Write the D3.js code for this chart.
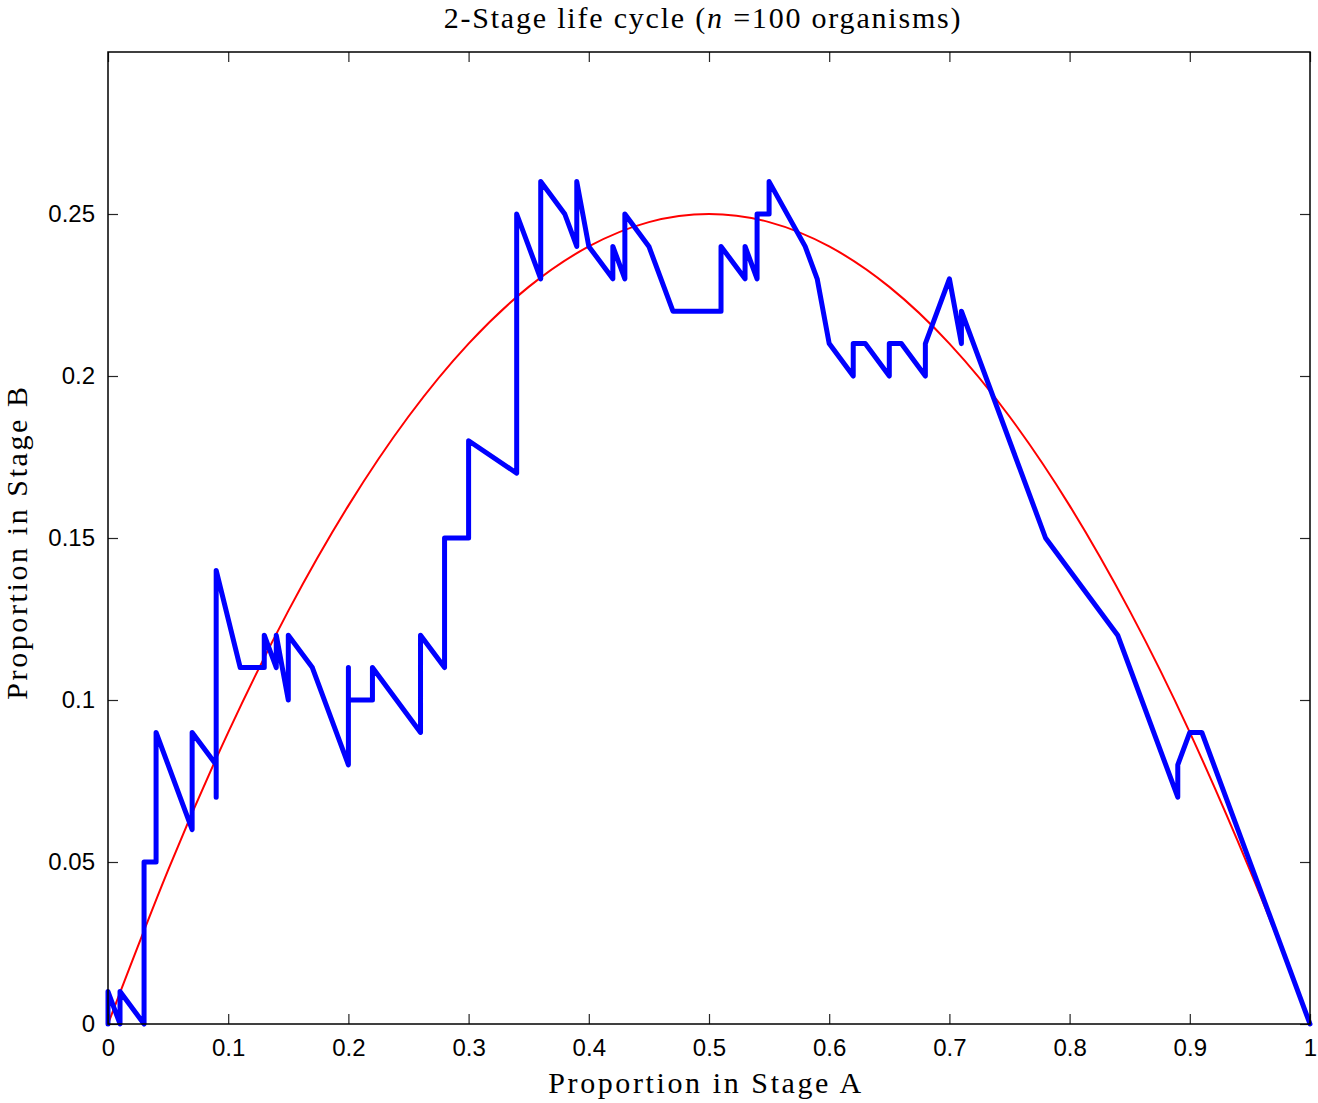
<!DOCTYPE html>
<html>
<head>
<meta charset="utf-8">
<script src="https://cdn.jsdelivr.net/npm/d3@7"></script>
<style>
  html, body { margin: 0; padding: 0; background: #fff; }
  svg { display: block; }
</style>
</head>
<body>
<svg id="chart" width="1318" height="1103"></svg>
<script>
// Simulated trajectory: proportion in stage A (x) vs stage B (y)
const trajA = [0,0,0.01,0.01,0.03,0.03,0.04,0.04,0.07,0.07,0.09,0.09,0.09,0.11,0.13,0.13,0.14,0.14,0.15,0.15,
  0.17,0.20,0.20,0.20,0.22,0.22,0.26,0.26,0.28,0.28,0.30,0.30,0.34,0.34,0.36,0.36,0.38,0.39,0.39,0.40,
  0.42,0.42,0.43,0.43,0.45,0.47,0.51,0.51,0.53,0.53,0.54,0.54,0.55,0.55,0.58,0.59,0.60,0.62,0.62,0.63,
  0.65,0.65,0.66,0.68,0.68,0.70,0.71,0.71,0.78,0.84,0.89,0.89,0.90,0.91,1.00];
const trajB = [0,0.01,0,0.01,0,0.05,0.05,0.09,0.06,0.09,0.08,0.07,0.14,0.11,0.11,0.12,0.11,0.12,0.10,0.12,
  0.11,0.08,0.11,0.10,0.10,0.11,0.09,0.12,0.11,0.15,0.15,0.18,0.17,0.25,0.23,0.26,0.25,0.24,0.26,0.24,
  0.23,0.24,0.23,0.25,0.24,0.22,0.22,0.24,0.23,0.24,0.23,0.25,0.25,0.26,0.24,0.23,0.21,0.20,0.21,0.21,
  0.20,0.21,0.21,0.20,0.21,0.23,0.21,0.22,0.15,0.12,0.07,0.08,0.09,0.09,0];

// Expected curve, sampled points
const curveA = [0,0.05,0.10,0.15,0.20,0.25,0.30,0.35,0.40,0.45,0.50,0.55,0.60,0.65,0.70,0.75,0.80,0.85,0.90,0.95,0.98];
const curveB = [0,0.0475,0.09,0.1275,0.16,0.1875,0.21,0.2275,0.24,0.2475,0.25,0.2475,0.24,0.2275,0.21,0.1875,0.16,0.1275,0.09,0.0475,0.0196];

const xTicks = [0,0.1,0.2,0.3,0.4,0.5,0.6,0.7,0.8,0.9,1];
const yTicks = [0,0.05,0.1,0.15,0.2,0.25];
const xTickLabels = ["0","0.1","0.2","0.3","0.4","0.5","0.6","0.7","0.8","0.9","1"];
const yTickLabels = ["0","0.05","0.1","0.15","0.2","0.25"];

const titleText = "2-Stage life cycle (";
const xLabel = "Proportion in Stage A";
const yLabel = "Proportion in Stage B";

const margin = { left: 108, right: 8, top: 52, bottom: 79 };
const W = 1318, H = 1103;
const svg = d3.select("#chart");

const x = d3.scaleLinear().domain([0, 1]).range([margin.left, W - margin.right]);
const y = d3.scaleLinear().domain([0, 0.3]).range([H - margin.bottom, margin.top]);

const serif = "'Liberation Serif', 'Times New Roman', serif";
const sans = "'Liberation Sans', Arial, Helvetica, sans-serif";

const plot = svg.append("g");

// Expected curve (red) and trajectory (blue)
const curveData = curveA.map((a, i) => [a, curveB[i]]);
plot.append("path")
  .datum(curveData)
  .attr("fill", "none")
  .attr("stroke", "#ff0000")
  .attr("stroke-width", 2)
  .attr("d", d3.line().x(d => x(d[0])).y(d => y(d[1])).curve(d3.curveNatural));

const trajData = trajA.map((a, i) => [a, trajB[i]]);
plot.append("path")
  .datum(trajData)
  .attr("fill", "none")
  .attr("stroke", "#0000ff")
  .attr("stroke-width", 5)
  .attr("stroke-linejoin", "round")
  .attr("stroke-linecap", "round")
  .attr("d", d3.line().x(d => x(d[0])).y(d => y(d[1])));

// Axes with inward ticks on all four sides
const tickLen = 10;
const axB = svg.append("g")
  .attr("transform", `translate(0,${y(0)})`)
  .call(d3.axisBottom(x).tickValues(xTicks).tickSizeInner(-tickLen).tickSizeOuter(0)
    .tickFormat((d, i) => xTickLabels[i]));
const axT = svg.append("g")
  .attr("transform", `translate(0,${y(0.3)})`)
  .call(d3.axisTop(x).tickValues(xTicks).tickSizeInner(-tickLen).tickSizeOuter(0).tickFormat(""));
const axL = svg.append("g")
  .attr("transform", `translate(${x(0)},0)`)
  .call(d3.axisLeft(y).tickValues(yTicks).tickSizeInner(-tickLen).tickSizeOuter(0)
    .tickFormat((d, i) => yTickLabels[i]));
const axR = svg.append("g")
  .attr("transform", `translate(${x(1)},0)`)
  .call(d3.axisRight(y).tickValues(yTicks).tickSizeInner(-tickLen).tickSizeOuter(0).tickFormat(""));

[axB, axT, axL, axR].forEach(g => {
  g.select(".domain").remove();
  g.selectAll(".tick line").attr("stroke", "#262626").attr("stroke-width", 1.2);
  g.selectAll(".tick text").attr("fill", "#000").style("font-family", sans).style("font-size", "24px");
});
axB.selectAll(".tick text").attr("y", 15);
axL.selectAll(".tick text").attr("x", -13);

// Frame
svg.append("rect")
  .attr("x", x(0)).attr("y", y(0.3))
  .attr("width", x(1) - x(0)).attr("height", y(0) - y(0.3))
  .attr("fill", "none").attr("stroke", "#000").attr("stroke-width", 1.5);

// Title
const title = svg.append("text")
  .attr("x", (x(0) + x(1)) / 2 - 6).attr("y", 28)
  .attr("text-anchor", "middle")
  .style("font-family", serif).style("font-size", "30px")
  .style("letter-spacing", "1.8px").attr("fill", "#000");
title.append("tspan").text(titleText);
title.append("tspan").style("font-style", "italic").text("n");
title.append("tspan").text(" =100 organisms)");

// Axis labels
svg.append("text")
  .attr("x", (x(0) + x(1)) / 2 - 3).attr("y", 1093)
  .attr("text-anchor", "middle")
  .style("font-family", serif).style("font-size", "30px")
  .style("letter-spacing", "2.6px").attr("fill", "#000")
  .text(xLabel);

svg.append("text")
  .attr("transform", `translate(27,${(y(0) + y(0.3)) / 2 + 4}) rotate(-90)`)
  .attr("text-anchor", "middle")
  .style("font-family", serif).style("font-size", "30px")
  .style("letter-spacing", "2.6px").attr("fill", "#000")
  .text(yLabel);
</script>
</body>
</html>
